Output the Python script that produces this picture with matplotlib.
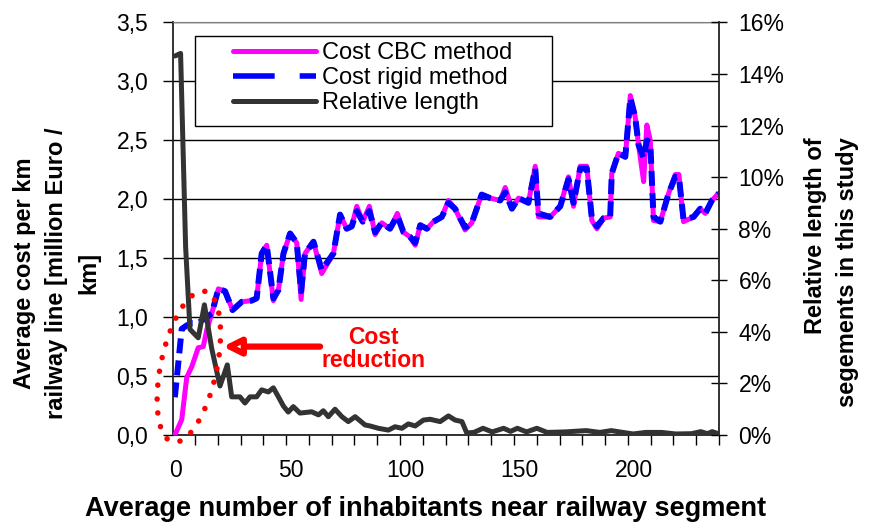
import numpy as np
import matplotlib
matplotlib.use("Agg")
import matplotlib.pyplot as plt
from matplotlib.patches import Rectangle
from matplotlib.lines import Line2D

plt.rcParams['font.family'] = ['Liberation Sans', 'DejaVu Sans']

# average cost per km [million Euro / km]
cost_x = [-0.5, 2.5, 4.7, 6.9, 9.7, 11.9, 13.4, 15.6, 18.5, 21.4, 24.7, 28.7,
          33.0, 35.2, 37.4, 39.6, 42.5, 44.7, 46.9, 49.8, 52.7, 54.6, 56.3,
          60.0, 63.6, 68.7, 71.6, 74.5, 76.7, 78.9, 81.5, 84.4, 86.9, 89.8,
          93.4, 96.6, 99.3, 102.2, 104.4, 106.6, 109.5, 112.4, 116.0, 118.9,
          121.8, 126.2, 129.1, 133.4, 137.1, 141.5, 143.7, 146.6, 149.5,
          153.8, 156.8, 158.2, 163.3, 167.7, 171.3, 173.5, 176.4, 179.3,
          181.5, 183.7, 186.6, 189.5, 190.2, 193.1, 196.1, 198.3, 200.4,
          201.9, 204.1, 205.5, 207.0, 208.4, 211.4, 215.0, 217.9, 219.5,
          221.5, 225.9, 228.8, 231.0, 233.9, 236.8]
cost_cbc = [0.00, 0.13, 0.49, 0.58, 0.74, 0.75, 0.89, 1.03, 1.24, 1.22, 1.06, 1.13,
            1.14, 1.16, 1.54, 1.61, 1.14, 1.23, 1.54, 1.71, 1.63, 1.15, 1.54,
            1.64, 1.37, 1.54, 1.87, 1.75, 1.77, 1.94, 1.81, 1.94, 1.70, 1.80,
            1.75, 1.88, 1.72, 1.68, 1.61, 1.78, 1.75, 1.81, 1.85, 1.99,
            1.92, 1.74, 1.80, 2.04, 2.01, 1.99, 2.10, 1.92, 2.01,
            1.97, 2.28, 1.85, 1.85, 1.94, 2.19, 1.94, 2.28, 2.28,
            1.82, 1.75, 1.84, 1.85, 2.22, 2.39, 2.36, 2.88, 2.70,
            2.46, 2.15, 2.63, 2.50, 1.82, 1.81, 2.05, 2.21, 2.21,
            1.81, 1.85, 1.92, 1.88, 1.99, 2.05]
cost_rigid = [0.32, 0.90, 0.93, 0.95, 0.95, 0.98, 1.00, 1.03, 1.24, 1.22, 1.06, 1.13,
              1.14, 1.16, 1.54, 1.61, 1.16, 1.23, 1.54, 1.71, 1.63, 1.22, 1.54,
              1.64, 1.40, 1.54, 1.87, 1.75, 1.77, 1.90, 1.81, 1.90, 1.72, 1.80,
              1.75, 1.86, 1.72, 1.68, 1.63, 1.78, 1.75, 1.81, 1.85, 1.97,
              1.92, 1.76, 1.80, 2.04, 2.01, 1.99, 2.06, 1.92, 2.01,
              1.97, 2.26, 1.88, 1.85, 1.94, 2.17, 1.97, 2.26, 2.26,
              1.84, 1.77, 1.84, 1.85, 2.22, 2.39, 2.36, 2.86, 2.70,
              2.46, 2.35, 2.50, 2.48, 1.85, 1.81, 2.05, 2.19, 2.19,
              1.83, 1.85, 1.92, 1.88, 1.99, 2.05]

# relative length of segments in this study [%]
len_x = [-0.4, 2.0, 4.2, 6.1, 7.6, 9.7, 12.4, 15.6, 19.2, 22.4, 24.3, 27.9,
         30.1, 32.3, 35.2, 37.4, 40.3, 42.5, 44.7, 46.9, 49.0, 51.2, 54.1,
         59.2, 62.2, 64.3, 66.5, 69.4, 72.4, 75.2, 78.2, 82.5, 84.7, 88.3,
         92.7, 95.6, 98.6, 101.4, 104.4, 108.0, 110.9, 115.3, 118.9, 121.8,
         124.8, 126.9, 130, 134, 138, 143, 146, 149, 153, 157.5, 162, 170,
         179, 185, 190, 195, 199.6, 205, 212, 218, 225, 229, 232, 234, 237]
len_pct = [14.7, 14.8, 7.3, 4.1, 3.96, 3.77, 5.05, 3.35, 1.9, 2.72, 1.48, 1.48,
           1.24, 1.48, 1.48, 1.75, 1.67, 1.83, 1.48, 1.12, 0.89, 1.1, 0.85,
           0.9, 0.78, 0.94, 0.71, 1.0, 0.71, 0.52, 0.71, 0.39, 0.35, 0.26,
           0.19, 0.32, 0.26, 0.43, 0.35, 0.58, 0.61, 0.52, 0.74, 0.58,
           0.52, 0.08, 0.1, 0.26, 0.12, 0.26, 0.14, 0.26, 0.12, 0.26, 0.1, 0.12,
           0.17, 0.1, 0.17, 0.1, 0.04, 0.1, 0.1, 0.04, 0.05, 0.13, 0.05, 0.13, 0.04]

x_labels = [0, 50, 100, 150, 200]
left_ticks = np.arange(0, 3.51, 0.5)
right_ticks = np.arange(0, 17, 2)

pink = '#FF00FF'
blue = '#0000FF'
dark = '#333333'

fig = plt.figure(figsize=(8.69, 5.29), dpi=100)
ax = fig.add_axes([0.1991, 0.1777, 0.6283, 0.7798])

ax.plot(cost_x, cost_cbc, color=pink, lw=3.6, solid_joinstyle='round',
        solid_capstyle='round', zorder=3)
ax.plot(cost_x, cost_rigid, color=blue, lw=4.3, dashes=(2.5, 1.2), zorder=4)

ax.set_xlim(-1.3, 237)
ax.set_ylim(0, 3.5)
ax.set_yticks(left_ticks)
ax.set_yticklabels([f"{v:.1f}".replace('.', ',') for v in left_ticks])
ax.set_xticks(x_labels)
ax.set_xticklabels([str(v) for v in x_labels])
ax.set_xticks(np.linspace(8.3, 237, 24), minor=True)
ax.tick_params(axis='y', direction='out', length=7, width=1, labelsize=16.5, pad=11)
ax.tick_params(axis='x', which='major', length=0, labelsize=16.5, pad=17)
ax.tick_params(axis='x', which='minor', direction='out', length=7, width=1)
ax.yaxis.grid(True, color='black', lw=1)
ax.spines['top'].set_color('#808080')
ax.spines['right'].set_visible(False)
for s in ['left', 'bottom']:
    ax.spines[s].set_linewidth(1.3)
    ax.spines[s].set_color('#222222')

# secondary axis: relative length
ax2 = ax.twinx()
ax2.plot(len_x, len_pct, color=dark, lw=3.6, solid_joinstyle='round',
         solid_capstyle='round', zorder=3)
ax2.set_ylim(0, 16)
ax2.set_yticks(right_ticks)
ax2.set_yticklabels([f"{v}%" for v in right_ticks])
ax2.tick_params(axis='y', direction='inout', length=12, width=1, labelsize=16.5, pad=8)
for s in ['top', 'left', 'bottom']:
    ax2.spines[s].set_visible(False)
ax2.spines['right'].set_linewidth(1.3)
ax2.spines['right'].set_color('#222222')

# dotted red ellipse around the start of the curves
cx, cy = ax.transData.transform((5.6, 0.58))
t = np.linspace(0, 2 * np.pi, 300)
a, b, th = 77, 28, np.deg2rad(78)
ex = cx + a * np.cos(t) * np.cos(th) - b * np.sin(t) * np.sin(th)
ey = cy + a * np.cos(t) * np.sin(th) + b * np.sin(t) * np.cos(th)
pts = ax2.transData.inverted().transform(np.column_stack([ex, ey]))
ax2.plot(pts[:, 0], pts[:, 1], color='red', lw=4, ls=(0, (0.01, 2.5)),
         dash_capstyle='round', clip_on=False, zorder=4)

# arrow + text
ax.annotate('', xy=(20.5, 0.75), xytext=(62.9, 0.75),
            arrowprops=dict(arrowstyle='-|>,head_length=1.0,head_width=0.5',
                            fc='white', ec='red', lw=4.5, shrinkA=0, shrinkB=0),
            zorder=5)
ax.text(86, 0.73, 'Cost\nreduction', color='red', fontsize=16.5,
        fontweight='bold', ha='center', va='center', linespacing=1.0, zorder=5)

# legend
ax2.add_patch(Rectangle((0.0403, 0.749), 0.654, 0.218, transform=ax2.transAxes,
                        fc='white', ec='black', lw=1, zorder=5))
handles = [Line2D([], [], color=pink, lw=3.6, solid_capstyle='round'),
           Line2D([], [], color=blue, lw=4, dashes=(7.5, 4.5)),
           Line2D([], [], color=dark, lw=3.6, solid_capstyle='round')]
labels = ['Cost CBC method', 'Cost rigid method', 'Relative length']
leg = ax2.legend(handles, labels, loc='upper left', bbox_to_anchor=(0.11, 0.953),
                 frameon=False, fontsize=17, handlelength=3.5, handletextpad=0.25,
                 labelspacing=0.13, borderpad=0, borderaxespad=0)
leg.set_zorder(6)

fig.text(426 / 869, 1 - 509 / 529, 'Average number of inhabitants near railway segment',
         ha='center', va='center', fontsize=19.5, fontweight='bold')
fig.text(57 / 869, 1 - 273 / 529, 'Average cost per km\nrailway line [million Euro /\nkm]',
         rotation=90, ha='center', va='center', multialignment='center',
         fontsize=17, fontweight='bold', linespacing=1.5)
fig.text(831.5 / 869, 1 - 272 / 529, 'Relative length of\nsegements in this study',
         rotation=90, ha='center', va='center', multialignment='right',
         fontsize=17, fontweight='bold', linespacing=1.5)

fig.savefig('out.png', dpi=100)
